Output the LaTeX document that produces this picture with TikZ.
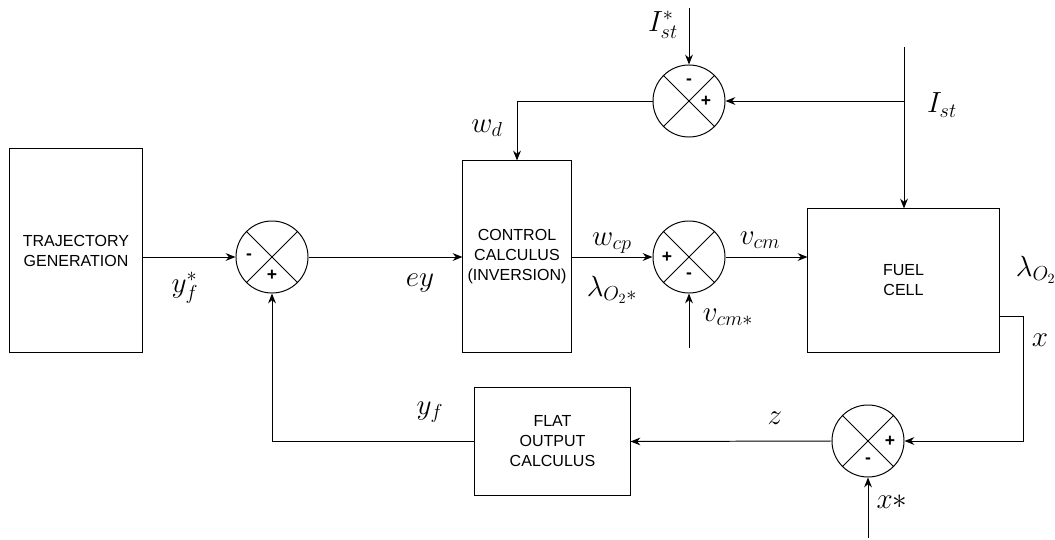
\documentclass[tikz,border=0pt]{standalone}
\usepackage{fontspec}
\setsansfont{Liberation Sans}
\usetikzlibrary{arrows.meta,calc,positioning}

\newcommand{\boxfont}{\sffamily\fontsize{11.4}{14.2}\selectfont}
\newcommand{\signfont}{\sffamily\bfseries\fontsize{12.5}{12.5}\selectfont}
\newcommand{\lblfont}{\fontsize{20}{22}\selectfont}

\tikzset{
  blk/.style={draw, align=center, font=\boxfont, inner sep=2pt},
  sumj/.style={circle, draw, minimum size=1.8cm, inner sep=0pt,
    path picture={\draw (path picture bounding box.north west) -- (path picture bounding box.south east)
      (path picture bounding box.north east) -- (path picture bounding box.south west);}},
  sgn/.style={font=\signfont, inner sep=0pt},
  lbl/.style={font=\lblfont, inner sep=0pt},
  >={Stealth[length=7pt,width=5.5pt]}
}

\begin{document}
\begin{tikzpicture}[x=0.025cm,y=-0.025cm,line width=0.7pt]
\useasboundingbox (0,0) rectangle (1055,540);

% blocks
\node[blk, minimum width=3.3cm, minimum height=5.075cm] (traj) at (76,250.5) {TRAJECTORY\\GENERATION};
\node[blk, minimum width=2.7cm, minimum height=4.775cm] (ctrl) at (517,256.5) {CONTROL\\CALCULUS\\(INVERSION)};
\node[blk, minimum width=4.775cm, minimum height=3.575cm] (fc) at (903.5,280.5) {FUEL\\CELL};
\node[blk, minimum width=3.875cm, minimum height=2.675cm] (flat) at (552.5,441.5) {FLAT\\OUTPUT\\CALCULUS};

% summing junctions
\node[sumj] (sumy) at (272,257) {};
\node[sumj] (sumi) at (689,101) {};
\node[sumj] (sumv) at (689,257) {};
\node[sumj] (sumx) at (868,441) {};

\node[sgn] (sy1) at ($(sumy)+(-23,0)$) {-};
\node[sgn] (sy2) at ($(sumy)+(0,18)$) {+};
\node[sgn] (si1) at ($(sumi)+(0,-19)$) {-};
\node[sgn] (si2) at ($(sumi)+(17,0)$) {+};
\node[sgn] (sv1) at ($(sumv)+(-22,0)$) {+};
\node[sgn] (sv2) at ($(sumv)+(0,19)$) {-};
\node[sgn] (sx1) at ($(sumx)+(22,0)$) {+};
\node[sgn] (sx2) at ($(sumx)+(0,20)$) {-};

% free ends
\coordinate (istar) at (689,8);
\coordinate (itop) at (904,47);
\coordinate (vstar) at (689,348);
\coordinate (xstar) at (868,538);
\coordinate (xout) at (1023,316);

% connectors
\draw[->] (traj.east |- sumy) -- (sumy.west);
\draw[->] (sumy.east) -- (sumy.east -| ctrl.west);
\draw[->] (istar) -- (sumi.north);
\draw[->] (itop |- sumi) -- (sumi.east);
\draw[->] (itop) -- (itop |- fc.north);
\draw[->] (sumi.west) -| (ctrl.north);
\draw[->] (ctrl.east |- sumv) -- (sumv.west);
\draw[->] (vstar) -- (sumv.south);
\draw[->] (sumv.east) -- (sumv.east -| fc.west);
\draw[->] (xout -| fc.east) -- (xout) |- (sumx.east);
\draw[->] (sumx.west) -- (flat.east);
\draw[->] (flat.west) -| (sumy.south);
\draw[->] (xstar) -- (sumx.south);

% labels
\node[lbl] (lis) at (663,25) {$I_{st}^*$};
\node[lbl] (li) at (942,105) {$I_{st}$};
\node[lbl] (lwd) at (487,128) {$w_d$};
\node[lbl] (lyfs) at (185,288) {$y_f^*$};
\node[lbl] (ley) at (420,283) {$ey$};
\node[lbl] (lwcp) at (612,243) {$w_{cp}$};
\node[lbl] (llo) at (612,290) {$\lambda_{O_2*}$};
\node[lbl] (lvcs) at (728,317) {$v_{cm*}$};
\node[lbl] (lvcm) at (760,240) {$v_{cm}$};
\node[lbl] (llam) at (1036,270) {$\lambda_{O_2}$};
\node[lbl] (lx) at (1040,340) {$x$};
\node[lbl] (lz) at (775,418) {$z$};
\node[lbl] (lyf) at (430,412) {$y_f$};
\node[lbl] (lxs) at (892,502) {$x*$};
\end{tikzpicture}
\end{document}
